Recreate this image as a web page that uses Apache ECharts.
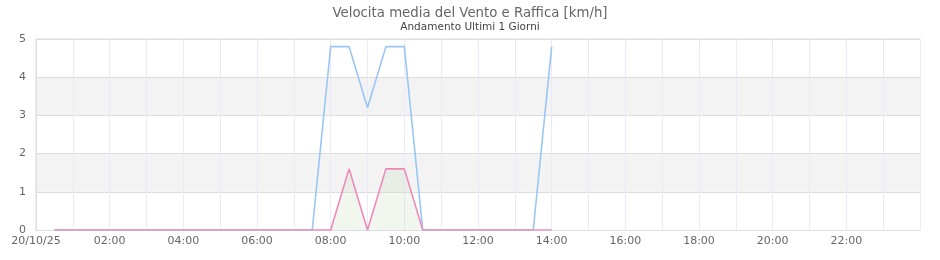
<!DOCTYPE html>
<html>
<head>
<meta charset="utf-8">
<script src="https://cdn.jsdelivr.net/npm/echarts@6/dist/echarts.min.js"></script>
<style>html,body{margin:0;padding:0;background:#fff}#c{width:940px;height:260px}</style>
</head>
<body>
<div id="c"></div>
<script>
var times = ["00:30","01:00","01:30","02:00","02:30","03:00","03:30","04:00","04:30","05:00","05:30","06:00","06:30","07:00","07:30","08:00","08:30","09:00","09:30","10:00","10:30","11:00","11:30","12:00","12:30","13:00","13:30","14:00"];
var raffica = [0,0,0,0,0,0,0,0,0,0,0,0,0,0,0,4.8,4.8,3.2,4.8,4.8,0,0,0,0,0,0,0,4.8];
var media   = [0,0,0,0,0,0,0,0,0,0,0,0,0,0,0,0,1.6,0,1.6,1.6,0,0,0,0,0,0,0,0];
var dateLabel = "20/10/25";
var yTicks = [0,1,2,3,4,5];

function toH(t){var p=t.split(":");return +p[0]+ +p[1]/60;}
function pairs(v){return times.map(function(t,i){return [toH(t), v[i]];});}
function pad(n){return (n<10?"0":"")+n;}

var chart = echarts.init(document.getElementById('c'));
chart.setOption({
  animation:false,
  backgroundColor:'#fff',
  title:{
    text:'Velocita media del Vento e Raffica [km/h]',
    subtext:'Andamento Ultimi 1 Giorni',
    left:'center', top:2, itemGap:2,
    textStyle:{fontFamily:'DejaVu Sans',fontSize:13.3,fontWeight:'normal',color:'#666'},
    subtextStyle:{fontFamily:'DejaVu Sans',fontSize:10.5,color:'#444'}
  },
  grid:{left:36,right:20,top:39,bottom:30,show:true,borderColor:'#ddd',borderWidth:1,backgroundColor:'transparent'},
  xAxis:{
    type:'value',min:0,max:24,interval:1,
    axisLine:{show:true,lineStyle:{color:'#ddd'}},
    axisTick:{show:false},
    splitLine:{show:true,lineStyle:{color:'#ece9fb',width:1}},
    axisLabel:{
      fontFamily:'DejaVu Sans',fontSize:11,color:'#666',margin:6,showMaxLabel:false,
      formatter:function(v){
        if(v===0) return dateLabel;
        if(v%2!==0 || v>=24) return '';
        return pad(v)+':00';
      }
    }
  },
  yAxis:{
    type:'value',min:yTicks[0],max:yTicks[yTicks.length-1],interval:1,
    axisLine:{show:true,lineStyle:{color:'#ddd'}},
    axisTick:{show:false},
    splitLine:{show:true,lineStyle:{color:'#ddd'}},
    splitArea:{show:true,areaStyle:{color:['#ffffff','#f3f3f3']}},
    axisLabel:{fontFamily:'DejaVu Sans',fontSize:11,color:'#666',margin:10}
  },
  series:[
    {type:'line',name:'Raffica',data:pairs(raffica),symbol:'none',
     lineStyle:{color:'#99c6f5',width:1.6},z:2},
    {type:'line',name:'Media',data:pairs(media),symbol:'none',
     lineStyle:{color:'#ee88bb',width:1.6},
     areaStyle:{color:'rgba(205,226,195,0.4)'},z:3}
  ]
});
</script>
</body>
</html>
